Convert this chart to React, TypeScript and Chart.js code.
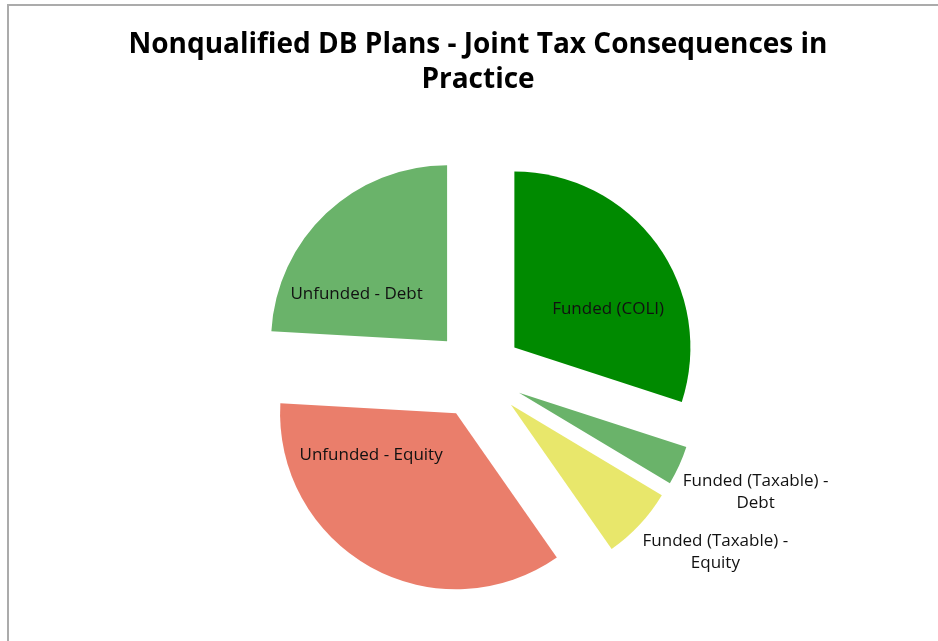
import React, { useEffect, useRef } from 'react';
import { Chart, registerables } from 'chart.js';

Chart.register(...registerables);

const titleLines = ['Nonqualified DB Plans - Joint Tax Consequences in', 'Practice'];
const categories = [
  'Funded (COLI)',
  'Funded (Taxable) - Debt',
  'Funded (Taxable) - Equity',
  'Unfunded - Equity',
  'Unfunded - Debt',
];
const shares = [30.0, 3.6, 6.7, 35.6, 24.1];
const sliceColors = ['#008a00', '#6ab36a', '#e8e76b', '#ea7e6b', '#6ab36a'];

const EXPLODE = 45;
const FONT = '"Open Sans", Lato, sans-serif';
const LABEL_SIZE = 17;

const explodePlugin = {
  id: 'explodeSlices',
  afterUpdate(chart: any) {
    const meta = chart.getDatasetMeta(0);
    meta.data.forEach((arc: any) => {
      const mid = (arc.startAngle + arc.endAngle) / 2;
      arc.x += Math.cos(mid) * EXPLODE;
      arc.y += Math.sin(mid) * EXPLODE;
    });
  },
};

function wrap(ctx: CanvasRenderingContext2D, text: string, maxW: number): string[] {
  const words = text.split(' ');
  const lines: string[] = [];
  let cur = '';
  for (const w of words) {
    const t = cur ? cur + ' ' + w : w;
    if (ctx.measureText(t).width > maxW && cur) {
      lines.push(cur);
      cur = w;
    } else cur = t;
  }
  if (cur) lines.push(cur);
  return lines;
}

const labelPlugin = {
  id: 'sliceLabels',
  afterDatasetsDraw(chart: any) {
    const ctx: CanvasRenderingContext2D = chart.ctx;
    const meta = chart.getDatasetMeta(0);
    const labels: string[] = chart.data.labels;
    ctx.save();
    ctx.font = `${LABEL_SIZE}px ${FONT}`;
    ctx.fillStyle = '#111';
    ctx.textBaseline = 'middle';
    const lh = 22;
    meta.data.forEach((arc: any, i: number) => {
      const sweep = arc.endAngle - arc.startAngle;
      const mid = (arc.startAngle + arc.endAngle) / 2;
      const R = arc.outerRadius;
      if (sweep < Math.PI / 6) {
        const lines = wrap(ctx, labels[i], 165);
        const w = Math.max(...lines.map((l) => ctx.measureText(l).width));
        const ax = arc.x + Math.cos(mid) * (R + 4);
        const ay = arc.y + Math.sin(mid) * (R + 4);
        const left = Math.cos(mid) >= 0 ? ax : ax - w;
        const h = lines.length * lh;
        const top = Math.sin(mid) >= 0 ? ay + 3 : ay - h - 3;
        ctx.textAlign = 'center';
        lines.forEach((l, k) => ctx.fillText(l, left + w / 2, top + lh * (k + 0.5)));
      } else {
        // pull label direction toward the horizontal, where text fits best
        const target = Math.cos(mid) >= 0 ? 0 : Math.PI;
        let d = mid - target;
        while (d > Math.PI) d -= 2 * Math.PI;
        while (d < -Math.PI) d += 2 * Math.PI;
        const ang = target + d * 0.5;
        const dist = R * 0.56;
        const x = arc.x + Math.cos(ang) * dist;
        const y = arc.y + Math.sin(ang) * dist - 8;
        ctx.textAlign = 'center';
        ctx.fillText(labels[i], x, y);
      }
    });
    ctx.restore();
  },
};

export default function App() {
  const ref = useRef<HTMLCanvasElement | null>(null);
  useEffect(() => {
    if (!ref.current) return;
    const chart = new Chart(ref.current, {
      type: 'pie',
      data: {
        labels: categories,
        datasets: [
          {
            data: shares,
            backgroundColor: sliceColors,
            borderWidth: 0,
          },
        ],
      },
      options: {
        animation: false,
        responsive: true,
        maintainAspectRatio: false,
        radius: 176,
        events: [],
        layout: { padding: { left: 18, right: 0, top: 0, bottom: 0 } },
        plugins: {
          legend: { display: false },
          tooltip: { enabled: false },
          title: {
            display: true,
            text: titleLines,
            color: '#000',
            font: { family: FONT, size: 28, weight: 'bold', lineHeight: 35 / 28 },
            padding: { top: 27.5, bottom: 9.5 },
          },
        },
      } as any,
      plugins: [explodePlugin, labelPlugin],
    });
    return () => chart.destroy();
  }, []);
  return (
    <div style={{ position: 'fixed', left: 0, top: 0, width: 938, height: 641, overflow: 'hidden', background: '#fff' }}>
      <div
        style={{
          position: 'absolute',
          left: 7,
          top: 4,
          width: 1200,
          height: 1000,
          borderLeft: '2px solid #ababab',
          borderTop: '2px solid #ababab',
        }}
      />
      <div style={{ position: 'absolute', left: 0, top: 0, width: 938, height: 641 }}>
        <canvas ref={ref} />
      </div>
    </div>
  );
}
